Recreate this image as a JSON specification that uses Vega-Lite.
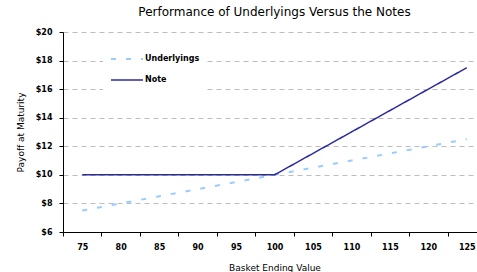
{
  "$schema": "https://vega.github.io/schema/vega-lite/v6.json",
  "autosize": "none",
  "padding": {"left": 63, "top": 32, "right": 0, "bottom": 40},
  "width": 423,
  "height": 200,
  "background": "white",
  "title": {
    "text": "Performance of Underlyings Versus the Notes",
    "font": "DejaVu Sans",
    "fontSize": 12,
    "fontWeight": "normal",
    "color": "black",
    "anchor": "middle",
    "offset": 9
  },
  "config": {
    "view": {"stroke": null},
    "axis": {
      "labelFont": "DejaVu Sans",
      "labelFontSize": 8,
      "labelFontWeight": "bold",
      "labelColor": "black",
      "titleFont": "DejaVu Sans",
      "titleFontSize": 9,
      "titleFontWeight": "normal",
      "titleColor": "black",
      "domainColor": "black",
      "tickColor": "black",
      "tickSize": 4,
      "labelPadding": 7
    },
    "legend": {
      "labelFont": "DejaVu Sans",
      "labelFontSize": 8,
      "labelFontWeight": "bold",
      "labelColor": "black"
    }
  },
  "data": {
    "values": [
      {"basket": 75, "series": "Underlyings", "payoff": 7.5},
      {"basket": 80, "series": "Underlyings", "payoff": 8.0},
      {"basket": 85, "series": "Underlyings", "payoff": 8.5},
      {"basket": 90, "series": "Underlyings", "payoff": 9.0},
      {"basket": 95, "series": "Underlyings", "payoff": 9.5},
      {"basket": 100, "series": "Underlyings", "payoff": 10.0},
      {"basket": 105, "series": "Underlyings", "payoff": 10.5},
      {"basket": 110, "series": "Underlyings", "payoff": 11.0},
      {"basket": 115, "series": "Underlyings", "payoff": 11.5},
      {"basket": 120, "series": "Underlyings", "payoff": 12.0},
      {"basket": 125, "series": "Underlyings", "payoff": 12.5},
      {"basket": 75, "series": "Note", "payoff": 10.0},
      {"basket": 80, "series": "Note", "payoff": 10.0},
      {"basket": 85, "series": "Note", "payoff": 10.0},
      {"basket": 90, "series": "Note", "payoff": 10.0},
      {"basket": 95, "series": "Note", "payoff": 10.0},
      {"basket": 100, "series": "Note", "payoff": 10.0},
      {"basket": 105, "series": "Note", "payoff": 11.5},
      {"basket": 110, "series": "Note", "payoff": 13.0},
      {"basket": 115, "series": "Note", "payoff": 14.5},
      {"basket": 120, "series": "Note", "payoff": 16.0},
      {"basket": 125, "series": "Note", "payoff": 17.5}
    ]
  },
  "mark": {"type": "line"},
  "encoding": {
    "x": {
      "field": "basket",
      "type": "ordinal",
      "scale": {"type": "band", "paddingInner": 0, "paddingOuter": 0},
      "axis": {
        "title": "Basket Ending Value",
        "labelAngle": 0,
        "tickBand": "extent",
        "grid": false,
        "titlePadding": 12
      }
    },
    "y": {
      "field": "payoff",
      "type": "quantitative",
      "scale": {"domain": [6, 20], "nice": false, "zero": false},
      "axis": {
        "title": "Payoff at Maturity",
        "values": [6, 8, 10, 12, 14, 16, 18, 20],
        "labelExpr": "'$' + datum.value",
        "grid": true,
        "gridColor": "#bdbdbd",
        "gridDash": [5, 4],
        "gridWidth": 1,
        "titlePadding": 10
      }
    },
    "color": {
      "field": "series",
      "type": "nominal",
      "sort": ["Underlyings", "Note"],
      "scale": {"domain": ["Underlyings", "Note"], "range": ["#99CCFF", "#2B2B9B"]},
      "legend": {
        "title": null,
        "orient": "none",
        "legendX": 40,
        "legendY": 3,
        "fillColor": "white",
        "padding": 7,
        "symbolType": "stroke",
        "symbolSize": 1024,
        "symbolStrokeWidth": 2,
        "rowPadding": -20,
        "labelOffset": 1
      }
    },
    "strokeDash": {
      "field": "series",
      "type": "nominal",
      "sort": ["Underlyings", "Note"],
      "scale": {"domain": ["Underlyings", "Note"], "range": [[5, 10], [1, 0]]}
    },
    "strokeWidth": {
      "field": "series",
      "type": "nominal",
      "scale": {"domain": ["Underlyings", "Note"], "range": [2, 1.5]},
      "legend": null
    }
  }
}
